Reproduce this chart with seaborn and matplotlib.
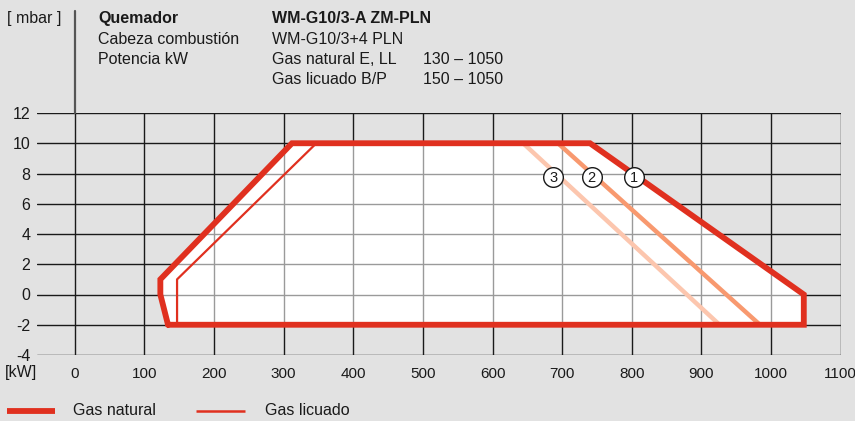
import matplotlib
matplotlib.use("Agg")
import matplotlib.pyplot as plt
import seaborn as sns
import pandas as pd

# ---- data ----
natural_kw = [134, 123, 123, 312, 740, 1047, 1047, 134]
natural_mbar = [-2, 0, 1, 10, 10, 0, -2, -2]
licuado_kw = [147, 147, 347]
licuado_mbar = [-2, 1, 10]
line2_kw = [694, 984]
line2_mbar = [10, -2]
line3_kw = [644, 926]
line3_mbar = [10, -2]
marker_labels = ["1", "2", "3"]
marker_kw = [803.5, 742.5, 687.5]
marker_mbar = [7.75, 7.75, 7.75]
x_ticks = [0, 100, 200, 300, 400, 500, 600, 700, 800, 900, 1000, 1100]
y_ticks = [-4, -2, 0, 2, 4, 6, 8, 10, 12]

header_col1 = ["Quemador", "Cabeza combustión", "Potencia kW"]
header_col2 = ["WM-G10/3-A ZM-PLN", "WM-G10/3+4 PLN", "Gas natural E, LL", "Gas licuado B/P"]
header_col3 = ["130 – 1050", "150 – 1050"]
legend_labels = ["Gas natural", "Gas licuado"]

RED = "#e0301f"
C2 = "#f8996f"
C3 = "#fcc6ae"
BG = "#e2e2e2"
INK = "#1a1a1a"

sns.set_theme(style="white")
plt.rcParams["font.family"] = ["Liberation Sans", "DejaVu Sans"]
plt.rcParams["axes.unicode_minus"] = False

W, H = 855, 421
fig = plt.figure(figsize=(W / 100, H / 100), dpi=100, facecolor=BG)
ax = fig.add_axes([37.3 / W, 1 - 355 / H, (840.7 - 37.3) / W, (355 - 113) / H])
ax.set_facecolor(BG)
ax.set_xlim(-53.7, 1100)
ax.set_ylim(-4, 12)
ax.set_xticks(x_ticks)
ax.set_yticks(y_ticks)
ax.tick_params(length=0, labelsize=11.5, colors=INK, pad=5)
ax.tick_params(axis="x", pad=9, labelsize=11)
for s in ax.spines.values():
    s.set_visible(False)
ax.grid(True, color=INK, linewidth=1.0, zorder=0)
ax.set_axisbelow(True)

# white working area, with lighter grid inside it
poly = ax.fill(natural_kw, natural_mbar, color="white", zorder=0.8, lw=0)[0]
for xt in x_ticks:
    ln = ax.axvline(xt, color="#9a9a9a", linewidth=1.0, zorder=0.9)
    ln.set_clip_path(poly)
for yt in y_ticks:
    ln = ax.axhline(yt, color="#9a9a9a", linewidth=1.0, zorder=0.9)
    ln.set_clip_path(poly)

df3 = pd.DataFrame({"kw": line3_kw, "mbar": line3_mbar})
df2 = pd.DataFrame({"kw": line2_kw, "mbar": line2_mbar})
dfl = pd.DataFrame({"kw": licuado_kw, "mbar": licuado_mbar})
dfn = pd.DataFrame({"kw": natural_kw, "mbar": natural_mbar})

sns.lineplot(data=df3, x="kw", y="mbar", sort=False, estimator=None, color=C3,
             linewidth=3.2, ax=ax, zorder=2, solid_capstyle="butt")
sns.lineplot(data=df2, x="kw", y="mbar", sort=False, estimator=None, color=C2,
             linewidth=3.2, ax=ax, zorder=2.1, solid_capstyle="butt")
sns.lineplot(data=dfl, x="kw", y="mbar", sort=False, estimator=None, color=RED,
             linewidth=1.6, ax=ax, zorder=2.2, solid_capstyle="butt")
sns.lineplot(data=dfn, x="kw", y="mbar", sort=False, estimator=None, color=RED,
             linewidth=4.2, ax=ax, zorder=3, solid_joinstyle="miter")

for lab, xk, ym in zip(marker_labels, marker_kw, marker_mbar):
    ax.scatter([xk], [ym], s=200, facecolor="white", edgecolor=INK, linewidth=1.0, zorder=4)
    ax.text(xk, ym - 0.05, lab, ha="center", va="center", fontsize=10.5, color=INK, zorder=5)

ax.set_xlabel("")
ax.set_ylabel("")

# x=0 line extends to the top of the figure
ax.plot([0, 0], [12, 18.75], color="#555555", linewidth=1.6, clip_on=False, zorder=1)

# texts
def ftext(px, py, s, **kw):
    fig.text(px / W, 1 - py / H, s, va="center", color=INK, **kw)

ftext(7, 18.5, "[ mbar ]", fontsize=11.5)
ftext(5, 372, "[kW]", fontsize=11.5)
rows = [18.5, 39, 59.5, 80]
for i, s in enumerate(header_col1):
    ftext(98, rows[i], s, fontsize=11.5, fontweight="bold" if i == 0 else "normal")
for i, s in enumerate(header_col2):
    ftext(272, rows[i], s, fontsize=11.5, fontweight="bold" if i == 0 else "normal")
for i, s in enumerate(header_col3):
    ftext(423, rows[i + 2], s, fontsize=11.5)

# legend
fig.add_artist(plt.Line2D([7 / W, 55 / W], [1 - 410.7 / H] * 2, color=RED, linewidth=4.2,
                          solid_capstyle="butt"))
fig.add_artist(plt.Line2D([196 / W, 245 / W], [1 - 410.7 / H] * 2, color=RED, linewidth=1.8,
                          solid_capstyle="butt"))
ftext(73, 410.5, legend_labels[0], fontsize=11.5)
ftext(265, 410.5, legend_labels[1], fontsize=11.5)

fig.savefig("out.png", dpi=100, facecolor=BG)
